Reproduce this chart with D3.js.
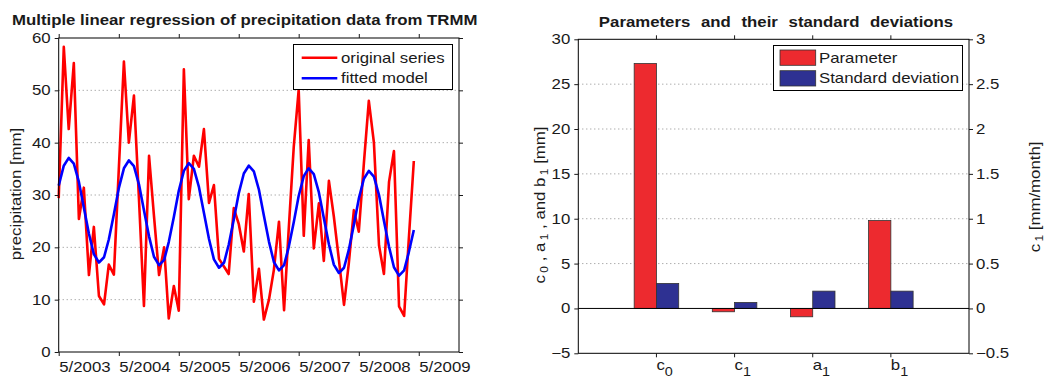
<!DOCTYPE html>
<html lang="en">
<head>
  <meta charset="UTF-8">
  <title>Multiple linear regression of TRMM precipitation</title>
  <style>
    body { margin: 0; background: #fff; }
    svg { display: block; }
    text { font-family: "Liberation Sans", Arial, sans-serif; font-size: 14px; fill: #1a1a1a; }
    /* the original figure is stretched sideways, so is its lettering */
    .wide { transform-box: fill-box; transform: scaleX(1.2); transform-origin: 0 50%; }
    .wide.end { transform-origin: 100% 50%; }
    .wide.mid { transform-origin: 50% 50%; }
    .title { font-weight: bold; }
    .grid line { stroke: #8a8a8a; stroke-dasharray: 1 3; }
    .tick line { stroke: #1a1a1a; }
  </style>
</head>
<body>
  <svg id="chart" width="1046" height="378"></svg>

  <script src="https://d3js.org/d3.v7.min.js"></script>
  <script>
    // monthly precipitation from TRMM [mm], first month 5/2003
    const firstMonth = '5/2003'
    const rainfall = [
      29.4, 58.3, 42.6, 55.2, 25.4, 31.4, 14.7, 23.9, 10.7, 9.1, 16.7, 14.8,
      35.0, 55.5, 40.0, 49.0, 29.0, 8.8, 37.5, 26.0, 14.7, 20.0, 6.4, 12.6,
      7.9, 54.0, 29.2, 37.5, 35.4, 42.6, 28.5, 31.9, 17.8, 16.3, 14.9, 27.5,
      24.5, 19.2, 30.2, 9.6, 15.9, 6.2, 10.0, 15.7, 24.9, 8.0, 23.3, 39.2,
      50.1, 22.2, 40.5, 19.8, 28.4, 17.4, 32.7, 25.9, 17.6, 9.0, 16.9, 27.1,
      23.0, 36.1, 48.0, 40.0, 20.4, 14.9, 32.5, 38.4, 8.7, 6.9, 21.4, 36.5
    ]
    // fitted model [mm]
    const fittedModel = [
      31.8, 35.6, 37.1, 36.0, 32.5, 27.6, 22.6, 18.7, 17.1, 18.1, 21.5, 26.3,
      31.3, 35.1, 36.6, 35.5, 32.0, 27.1, 22.1, 18.2, 16.6, 17.6, 21.0, 25.8,
      30.8, 34.6, 36.1, 35.0, 31.5, 26.6, 21.6, 17.7, 16.1, 17.1, 20.5, 25.3,
      30.3, 34.1, 35.6, 34.5, 31.0, 26.1, 21.1, 17.2, 15.6, 16.6, 20.0, 24.8,
      29.8, 33.6, 35.1, 34.0, 30.5, 25.6, 20.6, 16.7, 15.1, 16.1, 19.5, 24.3,
      29.3, 33.1, 34.6, 33.5, 30.0, 25.1, 20.1, 16.2, 14.6, 15.6, 19.0, 23.3
    ]
    const dateTicks = ['5/2003', '5/2004', '5/2005', '5/2006', '5/2007', '5/2008', '5/2009']
    const dateLimits = ['5/2003', '1/2010']
    const precipTicks = [0, 10, 20, 30, 40, 50, 60]

    // regression parameters (c1 in mm/month, the rest in mm)
    const params = ['c0', 'c1', 'a1', 'b1']
    const paramValues = [27.3, -0.037, -0.93, 9.8]
    const paramStd = [2.79, 0.067, 1.93, 1.93]
    const paramAxis = ['mm', 'rate', 'mm', 'mm']
    const barSeries = ['Parameter', 'Standard deviation']
    const mmTicks = [-5, 0, 5, 10, 15, 20, 25, 30]
    const rateTicks = [-0.5, 0, 0.5, 1, 1.5, 2, 2.5, 3]

    const svg = d3.select('#chart')

    // stretch text sideways, keeping its anchor in place
    const stretch = (sel, anchor) => sel.classed('wide', true)
      .classed('end', anchor === 'end')
      .classed('mid', anchor === 'middle')

    // text with subscripts, parts = [[normal, sub], ...]
    const subText = (text, parts, subSize) => {
      let shifted = false
      parts.forEach(([main, sub]) => {
        text.append('tspan').attr('dy', shifted ? -3 : 0).text(main)
        shifted = false
        if (sub) {
          text.append('tspan').attr('dx', 2).attr('dy', 3).style('font-size', subSize).text(sub)
          shifted = true
        }
      })
    }

    // ---------- left: time series ----------
    const L = { left: 58.7, right: 459, top: 38, bottom: 352 }
    const parseMonth = d3.timeParse('%m/%Y')
    const months = rainfall.map((d, i) => d3.timeMonth.offset(parseMonth(firstMonth), i))

    const x = d3.scaleTime()
      .domain(dateLimits.map(parseMonth))
      .range([L.left, L.right])
    const y = d3.scaleLinear()
      .domain([0, 60])
      .range([L.bottom, L.top])

    svg.append('g').attr('class', 'grid')
      .selectAll('line')
      .data(precipTicks.filter(v => v > 0 && v < 60))
      .join('line')
      .attr('x1', L.left).attr('x2', L.right)
      .attr('y1', d => y(d)).attr('y2', d => y(d))

    const line = d3.line()
      .x((d, i) => x(months[i]))
      .y(d => y(d))

    svg.append('path')
      .datum(rainfall)
      .attr('d', line)
      .attr('fill', 'none')
      .attr('stroke', '#ff0000')
      .attr('stroke-width', 2.6)
      .attr('stroke-linejoin', 'round')

    svg.append('path')
      .datum(fittedModel)
      .attr('d', line)
      .attr('fill', 'none')
      .attr('stroke', '#0000ff')
      .attr('stroke-width', 2.6)
      .attr('stroke-linejoin', 'round')

    // box and ticks on every side
    svg.append('rect')
      .attr('x', L.left).attr('y', L.top)
      .attr('width', L.right - L.left).attr('height', L.bottom - L.top)
      .attr('fill', 'none').attr('stroke', '#000')

    const tickDates = dateTicks.map(parseMonth)

    const xBottom = svg.append('g')
      .attr('transform', `translate(0, ${L.bottom})`)
      .call(d3.axisBottom(x).tickValues(tickDates).tickFormat((d, i) => dateTicks[i]).tickSize(4).tickPadding(6))
    xBottom.select('.domain').remove()
    xBottom.selectAll('text').attr('text-anchor', 'start').call(stretch, 'start')

    const xTop = svg.append('g')
      .attr('transform', `translate(0, ${L.top})`)
      .call(d3.axisTop(x).tickValues(tickDates).tickFormat('').tickSize(4))
    xTop.select('.domain').remove()

    const yLeft = svg.append('g')
      .attr('transform', `translate(${L.left}, 0)`)
      .call(d3.axisLeft(y).tickValues(precipTicks).tickSize(4).tickPadding(4))
    yLeft.select('.domain').remove()
    yLeft.selectAll('text').call(stretch, 'end')

    const yRight = svg.append('g')
      .attr('transform', `translate(${L.right}, 0)`)
      .call(d3.axisRight(y).tickValues(precipTicks).tickFormat('').tickSize(4))
    yRight.select('.domain').remove()

    svg.append('text')
      .attr('class', 'title')
      .attr('x', 12).attr('y', 25)
      .text('Multiple linear regression of precipitation data from TRMM')
      .call(stretch, 'start')

    svg.append('g')
      .attr('transform', `translate(21, 194) rotate(-90)`)
      .append('text')
      .attr('text-anchor', 'middle')
      .text('precipitation [mm]')
      .call(stretch, 'middle')

    // legend
    const legL = svg.append('g')
    legL.append('rect')
      .attr('x', 293.5).attr('y', 44.5).attr('width', 159).attr('height', 45)
      .attr('fill', '#fff').attr('stroke', '#000')
    const seriesNames = [['original series', '#ff0000'], ['fitted model', '#0000ff']]
    seriesNames.forEach(([name, color], i) => {
      const yy = 57.7 + i * 20.6
      legL.append('line')
        .attr('x1', 301.7).attr('x2', 337.3).attr('y1', yy).attr('y2', yy)
        .attr('stroke', color).attr('stroke-width', 2.6)
      legL.append('text')
        .attr('x', 341).attr('y', yy).attr('dy', '0.36em')
        .text(name)
        .call(stretch, 'start')
    })

    // ---------- right: parameters ----------
    const R = { left: 578.3, right: 969, top: 39.3, bottom: 353.3 }

    const xBand = d3.scaleBand()
      .domain(params)
      .range([R.left, R.right])
      .paddingInner(0.43)
      .paddingOuter(0.715)
    const xSub = d3.scaleBand()
      .domain(barSeries)
      .range([0, xBand.bandwidth()])
    const yMm = d3.scaleLinear().domain([-5, 30]).range([R.bottom, R.top])
    const yRate = d3.scaleLinear().domain([-0.5, 3]).range([R.bottom, R.top])
    const barColor = d3.scaleOrdinal().domain(barSeries).range(['#ed2a2f', '#2e3192'])

    svg.append('g').attr('class', 'grid')
      .selectAll('line')
      .data(mmTicks.filter(v => v > 0 && v < 30))
      .join('line')
      .attr('x1', R.left).attr('x2', R.right)
      .attr('y1', d => yMm(d)).attr('y2', d => yMm(d))

    const bars = params.flatMap((p, i) => barSeries.map(s => ({
      param: p,
      series: s,
      value: s === 'Parameter' ? paramValues[i] : paramStd[i],
      scale: paramAxis[i] === 'rate' ? yRate : yMm
    })))

    svg.append('g')
      .selectAll('rect')
      .data(bars)
      .join('rect')
      .attr('x', d => xBand(d.param) + xSub(d.series))
      .attr('width', xSub.bandwidth())
      .attr('y', d => Math.min(d.scale(d.value), d.scale(0)))
      .attr('height', d => Math.abs(d.scale(d.value) - d.scale(0)))
      .attr('fill', d => barColor(d.series))
      .attr('stroke', '#333')
      .attr('stroke-width', 0.8)

    // zero line
    svg.append('line')
      .attr('x1', R.left).attr('x2', R.right)
      .attr('y1', yMm(0)).attr('y2', yMm(0))
      .attr('stroke', '#000')

    svg.append('rect')
      .attr('x', R.left).attr('y', R.top)
      .attr('width', R.right - R.left).attr('height', R.bottom - R.top)
      .attr('fill', 'none').attr('stroke', '#000')

    const bTop = svg.append('g')
      .attr('transform', `translate(0, ${R.top})`)
      .call(d3.axisTop(xBand).tickFormat('').tickSize(4))
    bTop.select('.domain').remove()

    const bBottom = svg.append('g')
      .attr('transform', `translate(0, ${R.bottom})`)
      .call(d3.axisBottom(xBand).tickFormat('').tickSize(4))
    bBottom.select('.domain').remove()

    // category labels with subscripts
    const catLabels = svg.append('g')
      .selectAll('text')
      .data(params)
      .join('text')
      .attr('x', d => xBand(d) + xBand.bandwidth() / 2)
      .attr('y', 370)
    catLabels.append('tspan').text(d => d[0])
    catLabels.append('tspan').attr('dy', 6).style('font-size', '12px').text(d => d.slice(1))
    catLabels.call(stretch, 'start')

    const mmAxis = svg.append('g')
      .attr('transform', `translate(${R.left}, 0)`)
      .call(d3.axisLeft(yMm).tickValues(mmTicks).tickSize(4).tickPadding(4))
    mmAxis.select('.domain').remove()
    mmAxis.selectAll('text').call(stretch, 'end')

    const rateAxis = svg.append('g')
      .attr('transform', `translate(${R.right}, 0)`)
      .call(d3.axisRight(yRate).tickValues(rateTicks).tickFormat(d3.format('')).tickSize(4).tickPadding(3))
    rateAxis.select('.domain').remove()
    rateAxis.selectAll('text').call(stretch, 'start')

    svg.append('text')
      .attr('class', 'title')
      .attr('x', 776).attr('y', 27)
      .attr('text-anchor', 'middle')
      .style('word-spacing', '5px')
      .text('Parameters and their standard deviations')
      .call(stretch, 'middle')

    // left axis label: c0, a1, and b1 [mm]
    const mmLabel = svg.append('g')
      .attr('transform', 'translate(545, 205) rotate(-90)')
      .append('text')
      .attr('text-anchor', 'middle')
    subText(mmLabel, [['c', '0'], [' , a', '1'], [' , and b', '1'], [' [mm]', '']], '10px')
    mmLabel.call(stretch, 'middle')

    // right axis label: c1 [mm/month]
    const rateLabel = svg.append('g')
      .attr('transform', 'translate(1040, 197) rotate(-90)')
      .append('text')
      .attr('text-anchor', 'middle')
    subText(rateLabel, [['c', '1'], ['  [mm/month]', '']], '10px')
    rateLabel.call(stretch, 'middle')

    // legend
    const legR = svg.append('g')
    legR.append('rect')
      .attr('x', 773.5).attr('y', 45.5).attr('width', 189).attr('height', 45)
      .attr('fill', '#fff').attr('stroke', '#000')
    barSeries.forEach((name, i) => {
      const yy = 50 + i * 20.7
      legR.append('rect')
        .attr('x', 780).attr('y', yy).attr('width', 35.7).attr('height', 15.3)
        .attr('fill', barColor(name)).attr('stroke', '#333').attr('stroke-width', 0.8)
      legR.append('text')
        .attr('x', 819).attr('y', yy + 7.6).attr('dy', '0.36em')
        .text(name)
        .call(stretch, 'start')
    })
  </script>
</body>
</html>
